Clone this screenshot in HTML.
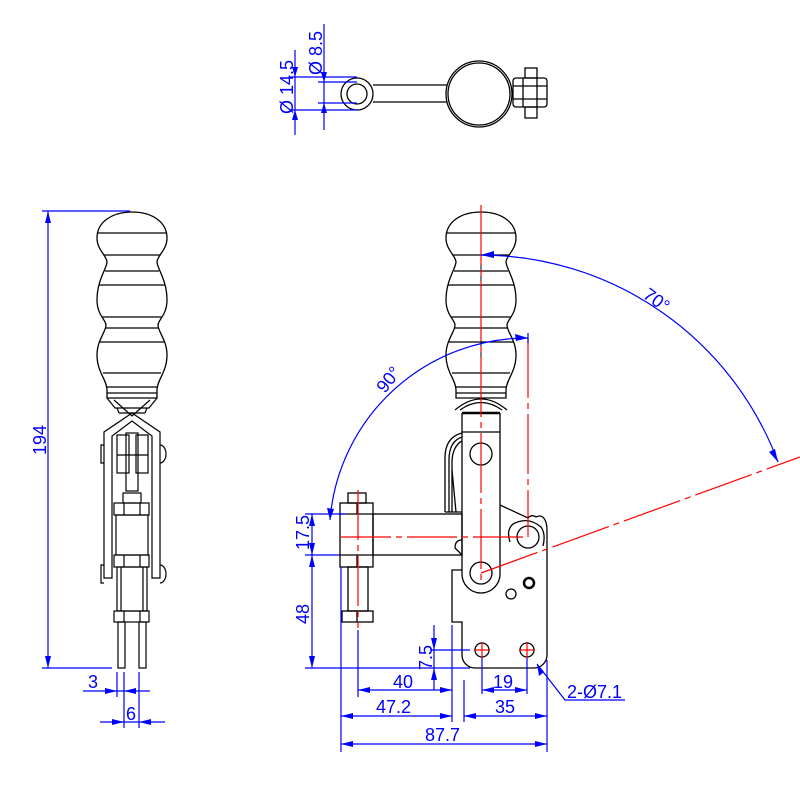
<!DOCTYPE html>
<html><head><style>html,body{margin:0;padding:0;background:#fff}svg{display:block}</style></head>
<body>
<svg width="800" height="800" viewBox="0 0 800 800" xmlns="http://www.w3.org/2000/svg" font-family="Liberation Sans, sans-serif">
<defs>
<g id="handle">
<path d="M0,212 C20,212 35,222 35,238 C35,250 25,256 25,262 C25,268 35,280 35,300 C35,315 26,320 26,325 C26,332 35,340 35,355 C35,372 25,380 25,390 L25,398 L-25,398 L-25,390 C-25,380 -35,372 -35,355 C-35,340 -26,332 -26,325 C-26,320 -35,315 -35,300 C-35,280 -25,268 -25,262 C-25,256 -35,250 -35,238 C-35,222 -20,212 0,212 Z" fill="none" stroke="#000" stroke-width="1.3"/>
<g stroke="#000" stroke-width="1.2">
<line x1="-34" y1="233" x2="34" y2="233"/><line x1="-28" y1="255" x2="28" y2="255"/>
<line x1="-27" y1="271" x2="27" y2="271"/><line x1="-33" y1="285" x2="33" y2="285"/>
<line x1="-30" y1="317" x2="30" y2="317"/><line x1="-27" y1="328" x2="27" y2="328"/>
<line x1="-32" y1="342" x2="32" y2="342"/><line x1="-29" y1="373" x2="29" y2="373"/>
<line x1="-25" y1="387" x2="25" y2="387"/><line x1="-25" y1="393" x2="25" y2="393"/>
</g>
</g>
</defs>

<!-- TOP VIEW -->
<g fill="none" stroke="#000" stroke-width="1.3">
<circle cx="357" cy="94" r="16"/><circle cx="357" cy="94" r="10"/>
<line x1="373" y1="85" x2="447" y2="85"/><line x1="373" y1="102" x2="447" y2="102"/>
<circle cx="479" cy="94" r="33"/><circle cx="479" cy="94" r="31"/>
<rect x="513" y="78" width="34" height="29" rx="3"/>
<line x1="523" y1="78" x2="523" y2="107"/><line x1="537" y1="78" x2="537" y2="107"/>
<line x1="513" y1="86" x2="547" y2="86"/><line x1="513" y1="99" x2="547" y2="99"/>
<rect x="525" y="68" width="12" height="10"/><rect x="525" y="107" width="12" height="11"/>
</g>
<g stroke="#00f" stroke-width="1.2" fill="none">
<line x1="290" y1="77" x2="357" y2="77"/><line x1="290" y1="110" x2="357" y2="110"/>
<line x1="295" y1="50" x2="295" y2="135"/>
<line x1="318" y1="82" x2="357" y2="82"/><line x1="318" y1="103" x2="357" y2="103"/>
<line x1="324" y1="24" x2="324" y2="130"/>
</g>
<g fill="#00f">
<path d="M295,77 l-3,-10 h6z"/><path d="M295,110 l-3,10 h6z"/>
<path d="M324,82 l-3,-10 h6z"/><path d="M324,103 l-3,10 h6z"/>
</g>
<g fill="#00f" font-size="18">
<text transform="translate(293,114) rotate(-90)">Ø 14.5</text>
<text transform="translate(322,75) rotate(-90)">Ø 8.5</text>
</g>

<!-- LEFT VIEW -->
<use href="#handle" transform="translate(132,0)"/>
<g fill="none" stroke="#000" stroke-width="1.2">
<path d="M107,398 L115,408 L149,408 L157,398"/>
<line x1="117" y1="408" x2="119" y2="413"/><line x1="147" y1="408" x2="145" y2="413"/><line x1="119" y1="413" x2="145" y2="413"/>
<path d="M114,400 L132,416 L150,400"/>
<path d="M104,578 V432 L132,413 L160,432 V578 H152 V436 L132,421 L112,436 V578 Z"/>
<rect x="117" y="435" width="12" height="38"/><rect x="136" y="435" width="12" height="38"/>
<rect x="126" y="433" width="12" height="58"/>
<line x1="117" y1="455" x2="148" y2="455"/>
<path d="M104,445 h-3 v18 h3"/><path d="M160,445 a6,9 0 0 1 0,18"/>
<path d="M104,565 h-3 v18 h3"/><path d="M160,565 a6,9 0 0 1 0,18"/>
<rect x="123" y="493" width="18" height="10"/>
<rect x="114" y="503" width="35" height="12"/><rect x="114" y="555" width="35" height="12"/>
<rect x="116" y="515" width="32" height="40"/>
<line x1="124" y1="503" x2="124" y2="515"/><line x1="140" y1="503" x2="140" y2="515"/>
<line x1="124" y1="555" x2="124" y2="567"/><line x1="140" y1="555" x2="140" y2="567"/>
<rect x="117" y="567" width="30" height="44"/>
<line x1="121" y1="567" x2="121" y2="611"/><line x1="143" y1="567" x2="143" y2="611"/>
<rect x="114" y="611" width="35" height="11"/>
<line x1="124" y1="611" x2="124" y2="622"/><line x1="140" y1="611" x2="140" y2="622"/>
<rect x="118" y="622" width="7" height="46"/><rect x="139" y="622" width="7" height="46"/>
</g>
<g stroke="#00f" stroke-width="1.2">
<line x1="42" y1="211" x2="130" y2="211"/><line x1="42" y1="668" x2="112" y2="668"/>
<line x1="48" y1="211" x2="48" y2="668"/>
<line x1="117" y1="672" x2="117" y2="697"/><line x1="124" y1="672" x2="124" y2="728"/><line x1="139" y1="672" x2="139" y2="728"/>
<line x1="83" y1="691" x2="150" y2="691"/><line x1="100" y1="722" x2="165" y2="722"/>
</g>
<g fill="#00f">
<path d="M48,211 l-3,12 h6z"/><path d="M48,668 l-3,-12 h6z"/>
<path d="M117,691 l-12,-3 v6z"/><path d="M124,691 l12,-3 v6z"/>
<path d="M124,722 l-12,-3 v6z"/><path d="M139,722 l12,-3 v6z"/>
</g>
<g fill="#00f" font-size="18">
<text transform="translate(46,455) rotate(-90)">194</text>
<text x="88" y="688">3</text><text x="126" y="720">6</text>
</g>

<!-- RIGHT VIEW -->
<use href="#handle" transform="translate(481,0)"/>
<g fill="none" stroke="#000" stroke-width="1.3">
<path d="M455,410 Q481,388 507,410"/><path d="M460,410 Q481,395 502,410"/>
<line x1="462" y1="413" x2="500" y2="413" stroke-width="2.5"/>
<path d="M462,413 V574 A19,19 0 0 0 500,574 V413"/>
<line x1="462" y1="432" x2="500" y2="432"/>
<circle cx="481" cy="454" r="11"/><circle cx="481" cy="573" r="11"/>
<path d="M462,433 C450,436 445,445 445,458 V512"/><path d="M462,437 C453,440 449,448 449,460 V512"/><path d="M462,441 C456,444 452,452 452,462 V512"/>
<line x1="445" y1="512" x2="462" y2="512"/><line x1="452" y1="470" x2="456" y2="512"/>
<rect x="373" y="514" width="89" height="41"/>
<path d="M462,540 Q455,540 455,548 L462,555"/>
<rect x="348" y="493" width="18" height="10"/>
<rect x="340" y="503" width="33" height="64"/>
<line x1="340" y1="514" x2="373" y2="514"/><line x1="340" y1="555" x2="373" y2="555"/>
<line x1="357" y1="503" x2="357" y2="514"/><line x1="357" y1="555" x2="357" y2="567"/>
<rect x="348" y="567" width="20" height="44"/>
<rect x="342" y="611" width="31" height="11"/><line x1="357" y1="611" x2="357" y2="622"/>
<path d="M500,505 L528,518 Q532,514 536,517 Q542,514 545,520 Q547,524 547,530 V655 A13,13 0 0 1 534,668 H475 A13,13 0 0 1 462,655 V622 H452 V570 H462"/>
<path d="M510,542 Q506,530 513,524 Q528,516 541,527 Q546,534 543,546"/>
<circle cx="528" cy="537" r="11"/>
<circle cx="529" cy="583" r="5" stroke-width="2.5"/><circle cx="511" cy="594" r="5"/>
<circle cx="482" cy="650" r="7"/><circle cx="527" cy="650" r="7"/>
<line x1="481" y1="230" x2="481" y2="395" stroke-width="1"/>
</g>
<g stroke="#f00" stroke-width="1.2" fill="none">
<line x1="481" y1="205" x2="481" y2="580" stroke-dasharray="60,5,6,5"/>
<line x1="528" y1="338" x2="528" y2="537" stroke-dasharray="60,5,6,5"/>
<line x1="341" y1="537" x2="528" y2="537" stroke-dasharray="50,5,6,5"/>
<line x1="358" y1="490" x2="358" y2="628" stroke-dasharray="50,5,6,5"/>
<line x1="481" y1="573" x2="800" y2="457" stroke-dasharray="60,5,6,5"/>
<line x1="474" y1="650" x2="490" y2="650"/><line x1="482" y1="642" x2="482" y2="658"/>
<line x1="519" y1="650" x2="535" y2="650"/><line x1="527" y1="642" x2="527" y2="658"/>
</g>
<g stroke="#00f" stroke-width="1.2" fill="none">
<line x1="528" y1="333" x2="528" y2="343"/>
<path d="M528,338 A198,198 0 0 0 330,520"/>
<path d="M481,255 A318,318 0 0 1 778,462"/>
<line x1="305" y1="514" x2="345" y2="514"/><line x1="305" y1="555" x2="340" y2="555"/>
<line x1="305" y1="668" x2="470" y2="668"/>
<line x1="312" y1="514" x2="312" y2="668"/>
<line x1="434" y1="625" x2="434" y2="690"/><line x1="430" y1="650" x2="470" y2="650"/>
<line x1="341" y1="567" x2="341" y2="752"/><line x1="358" y1="630" x2="358" y2="697"/>
<line x1="452" y1="625" x2="452" y2="722"/><line x1="464" y1="680" x2="464" y2="722"/>
<line x1="482" y1="658" x2="482" y2="694"/><line x1="527" y1="658" x2="527" y2="694"/>
<line x1="547" y1="660" x2="547" y2="752"/>
<line x1="358" y1="690" x2="452" y2="690"/><line x1="341" y1="716" x2="452" y2="716"/>
<line x1="464" y1="716" x2="547" y2="716"/><line x1="482" y1="690" x2="527" y2="690"/>
<line x1="341" y1="744" x2="547" y2="744"/>
<path d="M537,664 L565,700 H625"/>
</g>
<g fill="#00f">
<path d="M312,514 l-3,12 h6z"/><path d="M312,555 l-3,-12 h6z"/><path d="M312,555 l-3,12 h6z"/><path d="M312,668 l-3,-12 h6z"/>
<path d="M434,650 l-3,-12 h6z"/><path d="M434,668 l-3,12 h6z"/>
<path d="M358,690 l12,-3 v6z"/><path d="M452,690 l-12,-3 v6z"/>
<path d="M341,716 l12,-3 v6z"/><path d="M452,716 l-12,-3 v6z"/>
<path d="M464,716 l12,-3 v6z"/><path d="M547,716 l-12,-3 v6z"/>
<path d="M482,690 l12,-3 v6z"/><path d="M527,690 l-12,-3 v6z"/>
<path d="M341,744 l12,-3 v6z"/><path d="M547,744 l-12,-3 v6z"/>
<path d="M537,664 l2,12 l5,-4z"/>
<path d="M330,520 l-3,-12 l7,1z"/>
<path d="M528,338 l-13,-4 l1,7z"/>
<path d="M481,255 l13,-4 l0,7z"/>
<path d="M778,462 l-9,-10 l6,-3z"/>
</g>
<g fill="#00f" font-size="18">
<text transform="translate(309,550) rotate(-90)">17.5</text>
<text transform="translate(309,624) rotate(-90)">48</text>
<text transform="translate(432,670) rotate(-90)">7.5</text>
<text x="393" y="688">40</text>
<text x="376" y="713">47.2</text>
<text x="493" y="688">19</text>
<text x="495" y="713">35</text>
<text x="425" y="741">87.7</text>
<text x="567" y="698">2-Ø7.1</text>
<text transform="translate(385,394) rotate(-52)">90°</text>
<text transform="translate(642,297) rotate(36)">70°</text>
</g>
</svg>
</body></html>
